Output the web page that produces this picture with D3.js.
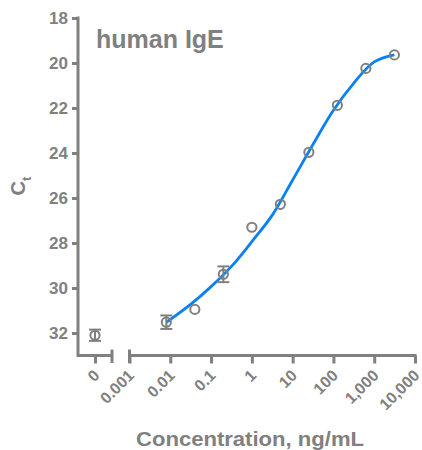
<!DOCTYPE html>
<html>
<head>
<meta charset="utf-8">
<script src="https://cdn.jsdelivr.net/npm/d3@7"></script>
<style>
  body { margin:0; background:#fff; }
  text { font-family: "Liberation Sans", Arial, sans-serif; font-weight:bold; fill:#808080; }
</style>
</head>
<body>
<div id="grafico"></div>
<script>
// dados
const conc = [0.008, 0.04, 0.2, 1, 5, 25, 125, 625, 3125];
const ct = [31.52, 30.95, 29.39, 27.30, 26.28, 23.97, 21.88, 20.24, 19.64];
const ctErr = [0.3, 0, 0.35, 0, 0, 0, 0, 0, 0]; // erros menores que o circulo ficam escondidos

const zeroLabel = ["0"];
const zeroCt = [32.1];
const zeroErr = [0.25];

// curva ajustada (meia década em meia década)
const fitConc = [0.008, 0.032, 0.1, 0.32, 1, 3.2, 10, 32, 100, 320, 1000, 3125];
const fitCt = [31.53, 30.72, 29.94, 29.03, 27.94, 26.75, 25.2, 23.6, 22.1, 20.88, 19.95, 19.64];

const yTicks = [18, 20, 22, 24, 26, 28, 30, 32];
const xTicks = [0.001, 0.01, 0.1, 1, 10, 100, 1000, 10000];
const xTickLabels = ["0.001", "0.01", "0.1", "1", "10", "100", "1,000", "10,000"];

const titulo = "human IgE";
const xTitulo = "Concentration, ng/mL";

const cinza = "#808080";
const azul = "#0a80f5";

const W = 422, H = 450;
const svg = d3.select("#grafico").append("svg")
  .attr("width", W).attr("height", H);

const y = d3.scaleLinear().domain([18, 33]).range([18, 355.5]);
const x = d3.scaleLog().domain([0.001, 10000]).range([129.5, 415]);
const x0 = d3.scalePoint().domain(zeroLabel).range([78, 112]); // segmento do zero

const y0px = y(33);

// eixo y
const gy = svg.append("g").attr("transform", "translate(78,0)")
  .call(d3.axisLeft(y).tickValues(yTicks).tickSize(6).tickSizeOuter(0));
gy.select(".domain").attr("stroke", cinza).attr("stroke-width", 3)
  .attr("d", "M0," + (y(18) - 1.5) + "V" + (y0px + 1.5));
gy.selectAll(".tick line").attr("stroke", cinza).attr("stroke-width", 3);
gy.selectAll(".tick text").attr("x", -10).style("font-size", "17px")
  .style("font-family", "Liberation Sans, Arial, sans-serif").attr("fill", cinza);

// eixo x - parte do zero
const gx0 = svg.append("g").attr("transform", "translate(0," + y0px + ")")
  .call(d3.axisBottom(x0).tickSize(8).tickSizeOuter(0));
// eixo x - parte log
const gx = svg.append("g").attr("transform", "translate(0," + y0px + ")")
  .call(d3.axisBottom(x).tickValues(xTicks).tickFormat((d, i) => xTickLabels[i]).tickSize(8).tickSizeOuter(0));

[gx0, gx].forEach(g => {
  g.select(".domain").attr("stroke", cinza).attr("stroke-width", 3);
  g.selectAll(".tick line").attr("stroke", cinza).attr("stroke-width", 3);
  g.selectAll(".tick text")
    .attr("x", null).attr("y", null).attr("dy", null)
    .attr("text-anchor", "end")
    .attr("transform", "translate(5,21) rotate(-45)")
    .style("font-size", "16px")
    .style("font-family", "Liberation Sans, Arial, sans-serif")
    .attr("fill", cinza);
});
gx0.select(".domain").attr("d", "M" + x0.range()[0] + ",0H" + x0.range()[1]);
gx.select(".domain").attr("d", "M" + x.range()[0] + ",0H" + (x.range()[1] + 1.5));

// marcas da quebra do eixo
[x0.range()[1], x.range()[0]].forEach(px => {
  svg.append("line")
    .attr("x1", px).attr("x2", px)
    .attr("y1", y0px - 6).attr("y2", y0px + 7.5)
    .attr("stroke", cinza).attr("stroke-width", 3);
});

// curva
const linha = d3.line()
  .x((d, i) => x(fitConc[i]))
  .y(d => y(d))
  .curve(d3.curveCatmullRom.alpha(0.5));
svg.append("path")
  .attr("d", linha(fitCt))
  .attr("fill", "none")
  .attr("stroke", azul)
  .attr("stroke-width", 2.8);

// barras de erro
function erro(px, v, e) {
  if (!e) return;
  svg.append("line").attr("x1", px).attr("x2", px)
    .attr("y1", y(v - e)).attr("y2", y(v + e))
    .attr("stroke", cinza).attr("stroke-width", 2);
  [v - e, v + e].forEach(t => {
    svg.append("line").attr("x1", px - 6).attr("x2", px + 6)
      .attr("y1", y(t)).attr("y2", y(t))
      .attr("stroke", cinza).attr("stroke-width", 2);
  });
}
conc.forEach((c, i) => erro(x(c), ct[i], ctErr[i]));
zeroLabel.forEach((z, i) => erro(x0(z), zeroCt[i], zeroErr[i]));

// pontos
svg.append("g").selectAll("circle").data(conc).join("circle")
  .attr("cx", d => x(d))
  .attr("cy", (d, i) => y(ct[i]))
  .attr("r", 4.6)
  .attr("fill", "none")
  .attr("stroke", cinza)
  .attr("stroke-width", 2);
svg.append("g").selectAll("circle").data(zeroLabel).join("circle")
  .attr("cx", d => x0(d))
  .attr("cy", (d, i) => y(zeroCt[i]))
  .attr("r", 4.6)
  .attr("fill", "none")
  .attr("stroke", cinza)
  .attr("stroke-width", 2);

// textos
svg.append("text").attr("x", 96).attr("y", 48)
  .style("font-size", "25px").text(titulo);

svg.append("text").attr("x", 250).attr("y", 446)
  .attr("text-anchor", "middle")
  .attr("textLength", 228).attr("lengthAdjust", "spacingAndGlyphs")
  .style("font-size", "20px").text(xTitulo);

const yl = svg.append("text")
  .attr("transform", "translate(25,186) rotate(-90)")
  .attr("text-anchor", "middle")
  .style("font-size", "20px");
yl.append("tspan").text("C");
yl.append("tspan").attr("dy", 6).style("font-size", "13px").text("t");
</script>
</body>
</html>
